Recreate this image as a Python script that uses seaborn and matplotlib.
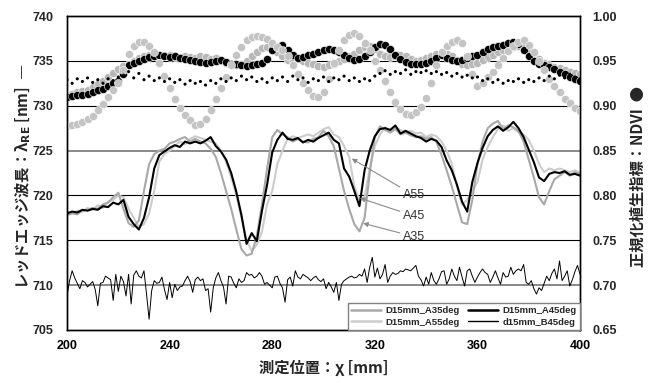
import matplotlib
matplotlib.use('Agg')
import matplotlib.pyplot as plt
import numpy as np
import pandas as pd
import seaborn as sns
from matplotlib.lines import Line2D

# measuring position [mm]
pos_fine = list(range(200, 401))        # 1 mm step
pos = list(range(200, 401, 2))          # 2 mm step

# red edge wavelength [nm], left axis
a35 = [717.8, 718.0, 717.9, 718.3, 718.4, 718.6, 718.5, 719.0, 719.2, 719.8,
       720.3, 718.5, 716.9, 716.5, 717.2, 720.5, 723.5, 724.6, 725.0, 725.2,
       725.8, 726.0, 726.3, 726.5, 726.0, 726.3, 726.0, 725.8, 725.2, 724.3,
       722.5, 720.5, 718.5, 716.2, 714.0, 713.3, 713.5, 715.5, 719.0, 723.0,
       726.5, 727.3, 726.8, 726.5, 726.0, 726.3, 726.0, 725.9, 726.3, 726.5,
       727.2, 726.6, 725.5, 723.0, 720.5, 718.5, 716.8, 716.0, 717.5, 722.5,
       726.5, 727.7, 727.3, 727.0, 727.4, 726.8, 727.0, 726.7, 726.5, 726.6,
       726.3, 726.5, 726.0, 724.5, 722.8, 721.0, 719.0, 717.0, 716.8, 719.5,
       723.5, 726.0, 727.5, 728.0, 728.3, 727.4, 727.8, 727.6, 727.2, 726.0,
       724.0, 722.0, 719.8, 719.0, 720.5, 721.8, 722.2, 722.6, 722.2, 722.6,
       722.4]
a45 = [718.0, 718.2, 718.1, 718.4, 718.3, 718.5, 718.4, 718.8, 718.7, 719.2,
       719.0, 719.5, 717.6, 716.8, 716.2, 717.5, 719.8, 723.0, 724.5, 724.9,
       725.3, 725.6, 725.4, 726.0, 725.8, 726.0, 725.8, 726.1, 726.5, 725.5,
       724.9, 724.0, 722.5, 720.4, 717.8, 714.6, 715.8, 714.9, 718.3, 721.2,
       724.8, 726.2, 727.0, 726.3, 726.2, 726.4, 725.9, 726.2, 726.0, 726.4,
       726.7, 727.0, 726.2, 725.8, 723.0, 722.1, 720.5, 718.8, 722.8, 725.0,
       726.6, 727.4, 727.5, 727.3, 727.8, 726.9, 727.2, 726.9, 726.6, 726.4,
       726.0, 726.3, 726.1, 725.4, 723.9, 722.8, 721.2, 719.3, 718.2, 721.5,
       723.6, 725.3, 726.6, 727.3, 727.7, 727.2, 727.6, 728.2, 727.5, 726.5,
       725.1, 723.7, 722.0, 721.6, 722.4, 722.6, 722.5, 722.7, 722.3, 722.4,
       722.2]
a55 = [718.2, 718.0, 718.3, 718.2, 718.6, 718.4, 718.9, 718.6, 719.3, 719.5,
       720.0, 719.8, 718.5, 717.5, 716.5, 716.8, 718.0, 720.5, 723.8, 724.6,
       725.0, 725.5, 726.0, 725.7, 726.3, 726.6, 726.4, 726.2, 726.0, 725.8,
       725.0, 723.8, 722.0, 720.0, 717.5, 715.0, 713.8, 714.5, 716.0, 719.0,
       720.5, 723.5, 725.0, 726.3, 726.6, 726.4, 726.6, 726.8, 726.6, 727.0,
       727.4, 727.6, 726.8, 726.5, 725.5, 724.3, 721.0, 719.5, 719.8, 723.0,
       725.5, 726.8, 727.6, 727.2, 727.6, 727.3, 727.0, 727.2, 726.9, 727.0,
       726.5, 726.8, 726.6, 726.0, 725.0, 723.5, 721.0, 719.0, 719.5, 720.5,
       721.5, 724.0, 725.4, 726.5, 727.4, 727.8, 727.2, 727.5, 727.0, 726.8,
       726.2, 725.0, 723.5, 722.6, 723.0, 722.8, 723.0, 722.8, 722.6, 722.8,
       722.5]
b45 = [708.8, 710.5, 711.6, 710.8, 710.2, 709.6, 710.5, 710.3, 709.8, 710.1,
       710.4, 709.5, 707.7, 710.2, 710.3, 711.0, 710.8, 710.6, 708.3, 711.2,
       709.3, 711.0, 710.4, 708.8, 711.2, 707.9, 711.1, 711.6, 711.0, 710.8,
       711.6, 709.0, 706.2, 709.4, 710.5, 710.2, 710.3, 710.9, 709.5, 708.4,
       710.3, 708.6, 710.1, 709.4, 709.8, 709.9, 710.5, 711.0, 710.4, 709.2,
       710.6, 710.9, 710.5, 710.7, 709.4, 709.6, 707.0, 709.7, 710.8, 711.4,
       710.5, 709.8, 707.9, 711.0, 710.9, 710.2, 709.7, 710.7, 710.3, 710.5,
       711.4, 711.1, 711.2, 710.8, 711.0, 711.4, 711.0, 710.1, 710.3, 710.0,
       709.7, 710.9, 711.0, 710.2, 709.7, 708.1, 710.6, 710.9, 709.9, 711.6,
       710.9, 710.7, 711.2, 711.0, 710.8, 710.5, 710.8, 711.0, 710.6, 710.4,
       710.7, 709.6, 710.3, 709.8, 709.2, 710.3, 708.3, 710.1, 710.5, 710.7,
       710.9, 711.0, 710.8, 710.9, 711.2, 711.0, 711.8, 710.3, 712.0, 713.1,
       710.9, 711.9, 710.7, 711.2, 712.3, 710.3, 711.0, 711.4, 711.2, 711.3,
       711.6, 711.5, 711.8, 711.7, 711.6, 711.9, 712.2, 711.0, 710.6, 709.9,
       710.9, 710.1, 711.4, 710.5, 710.1, 710.7, 711.5, 711.6, 710.1, 710.7,
       711.8, 711.0, 710.5, 712.0, 710.9, 709.9, 711.6, 711.8, 711.0, 710.3,
       710.9, 711.4, 711.8, 711.4, 711.2, 710.3, 710.9, 711.6, 710.8, 710.1,
       711.4, 710.9, 711.0, 712.0, 711.2, 711.6, 711.8, 711.6, 712.3, 710.3,
       710.1, 710.5, 709.6, 709.0, 709.7, 709.4, 710.2, 711.0, 710.5, 711.3,
       711.8, 710.7, 712.7, 710.5, 711.0, 711.6, 709.9, 710.6, 711.5, 712.2,
       711.2]

# NDVI, right axis
ndvi_black = [0.910, 0.911, 0.912, 0.912, 0.913, 0.915, 0.917, 0.919, 0.922, 0.925,
              0.928, 0.935, 0.945, 0.948, 0.950, 0.952, 0.954, 0.955, 0.956, 0.955,
              0.954, 0.955, 0.953, 0.952, 0.951, 0.950, 0.949, 0.948, 0.949, 0.950,
              0.951, 0.949, 0.947, 0.946, 0.945, 0.944, 0.945, 0.946, 0.948, 0.952,
              0.962, 0.966, 0.968, 0.962, 0.956, 0.953, 0.954, 0.956, 0.958, 0.960,
              0.962, 0.963, 0.962, 0.960, 0.956, 0.953, 0.951, 0.952, 0.955, 0.960,
              0.966, 0.969, 0.968, 0.963, 0.957, 0.952, 0.949, 0.947, 0.946, 0.947,
              0.948, 0.950, 0.953, 0.956, 0.953, 0.951, 0.950, 0.951, 0.953, 0.955,
              0.957, 0.960, 0.963, 0.965, 0.967, 0.968, 0.970, 0.971, 0.969, 0.962,
              0.955, 0.950, 0.947, 0.945, 0.943, 0.941, 0.938, 0.935, 0.932, 0.930,
              0.928]
ndvi_gray = [0.877, 0.879, 0.880, 0.882, 0.885, 0.889, 0.895, 0.902, 0.910, 0.917,
             0.925, 0.940, 0.958, 0.967, 0.971, 0.971, 0.967, 0.960, 0.948, 0.933,
             0.920, 0.908, 0.898, 0.890, 0.884, 0.879, 0.880, 0.885, 0.895, 0.908,
             0.920, 0.932, 0.945, 0.956, 0.966, 0.973, 0.977, 0.978, 0.977, 0.974,
             0.970, 0.966, 0.962, 0.955, 0.945, 0.935, 0.925, 0.917, 0.911, 0.910,
             0.915, 0.930, 0.948, 0.962, 0.973, 0.979, 0.981, 0.978, 0.970, 0.962,
             0.950, 0.940, 0.928, 0.915, 0.904, 0.896, 0.891, 0.890, 0.893, 0.899,
             0.909, 0.925, 0.945, 0.960, 0.967, 0.971, 0.973, 0.970, 0.955, 0.935,
             0.922, 0.925, 0.932, 0.938, 0.945, 0.953, 0.961, 0.967, 0.971, 0.973,
             0.968, 0.960, 0.950, 0.940, 0.930, 0.922, 0.915, 0.908, 0.903, 0.898,
             0.894]
ndvi_gray2 = [0.912, 0.913, 0.915, 0.916, 0.918, 0.921, 0.924, 0.928, 0.932, 0.937,
              0.941, 0.944, 0.946, 0.950, 0.953, 0.955, 0.957, 0.957, 0.956, 0.957,
              0.956, 0.954, 0.954, 0.955, 0.954, 0.953, 0.955, 0.954, 0.952, 0.953,
              0.950, 0.948, 0.946, 0.945, 0.947, 0.950, 0.955, 0.960, 0.964, 0.966,
              0.964, 0.960, 0.955, 0.951, 0.950, 0.952, 0.950, 0.948, 0.946, 0.944,
              0.943, 0.945, 0.947, 0.950, 0.952, 0.955, 0.958, 0.962, 0.966, 0.967,
              0.963, 0.958, 0.955, 0.954, 0.955, 0.956, 0.955, 0.952, 0.950, 0.951,
              0.953, 0.955, 0.958, 0.960, 0.958, 0.955, 0.951, 0.947, 0.945, 0.946,
              0.948, 0.951, 0.954, 0.957, 0.960, 0.962, 0.964, 0.966, 0.967, 0.966,
              0.962, 0.957, 0.952, 0.948, 0.945, 0.943, 0.942, 0.940, 0.938, 0.937,
              0.935]
ndvi_dots = [0.929, 0.925, 0.930, 0.927, 0.931, 0.926, 0.929, 0.925, 0.930, 0.928,
             0.932, 0.934, 0.938, 0.931, 0.936, 0.929, 0.933, 0.928, 0.931, 0.927,
             0.930, 0.926, 0.929, 0.924, 0.928, 0.925, 0.927, 0.923, 0.928, 0.925,
             0.930, 0.927, 0.931, 0.928, 0.933, 0.929, 0.932, 0.927, 0.930, 0.926,
             0.931, 0.928, 0.932, 0.927, 0.933, 0.929, 0.931, 0.926, 0.930, 0.928,
             0.932, 0.927, 0.931, 0.929, 0.933, 0.928, 0.931, 0.927, 0.930, 0.928,
             0.933, 0.936, 0.939, 0.935, 0.938, 0.936, 0.940, 0.935, 0.938, 0.937,
             0.939, 0.936, 0.938, 0.935, 0.937, 0.933, 0.936, 0.932, 0.934, 0.931,
             0.932, 0.928, 0.930, 0.926, 0.929, 0.925, 0.928, 0.927, 0.930, 0.926,
             0.929, 0.927, 0.931, 0.928, 0.933, 0.930, 0.934, 0.931, 0.935, 0.932,
             0.930]

series_names = ['D15mm_A35deg', 'D15mm_A45deg', 'D15mm_A55deg', 'd15mm_B45deg']
series_colors = ['#a8a8a8', 'black', '#cccccc', 'black']
series_widths = [1.5, 1.5, 1.5, 0.7]

# annotation labels: text position and arrow target (data coords)
ann_labels = ['A55', 'A45', 'A35']
ann_text_xy = [(331, 720.0), (331, 717.7), (331, 715.4)]
ann_target_xy = [(311.0, 724.1), (314.2, 719.7), (315.4, 716.9)]

sns.set_theme(style='white')
plt.rcParams['font.family'] = ['Noto Sans CJK JP', 'DejaVu Sans']

fig = plt.figure(figsize=(6.59, 3.83), dpi=100)
ax = fig.add_axes([0.1017, 0.1384, 0.7785, 0.8198])
ax2 = ax.twinx()

# grid lines
for v in [735, 730, 720, 715]:
    ax.axhline(v, color='black', lw=0.8, zorder=0)
for v in [725, 710]:
    ax.axhline(v, color='#808080', lw=1.3, zorder=0)

wl = pd.DataFrame({'pos': pos, 'A35': a35, 'A45': a45, 'A55': a55})
fine = pd.DataFrame({'pos': pos_fine, 'B45': b45})
sns.lineplot(data=wl, x='pos', y='A55', ax=ax, color=series_colors[2], lw=series_widths[2])
sns.lineplot(data=wl, x='pos', y='A35', ax=ax, color=series_colors[0], lw=series_widths[0])
sns.lineplot(data=wl, x='pos', y='A45', ax=ax, color=series_colors[1], lw=series_widths[1])
sns.lineplot(data=fine, x='pos', y='B45', ax=ax, color=series_colors[3], lw=series_widths[3])

nd = pd.DataFrame({'pos': pos, 'black': ndvi_black, 'gray': ndvi_gray,
                   'gray2': ndvi_gray2, 'dots': ndvi_dots})
sns.scatterplot(data=nd, x='pos', y='gray2', ax=ax2, color='#b8b8b8', s=34,
                edgecolor='white', linewidth=0.4, legend=False)
sns.scatterplot(data=nd, x='pos', y='black', ax=ax2, color='black', s=34,
                edgecolor='white', linewidth=0.4, legend=False)
sns.scatterplot(data=nd, x='pos', y='gray', ax=ax2, color='#c4c4c4', s=34,
                edgecolor='white', linewidth=0.4, legend=False)
sns.scatterplot(data=nd, x='pos', y='dots', ax=ax2, color='black', s=5,
                edgecolor='none', legend=False)

ax.set_xlim(200, 400)
ax.set_ylim(705, 740)
ax2.set_ylim(0.65, 1.00)
ax.set_xticks(range(200, 401, 40))
ax.set_yticks(range(705, 741, 5))
ax2.set_yticks(np.arange(0.65, 1.001, 0.05))
ax2.set_yticklabels([f'{v:.2f}' for v in np.arange(0.65, 1.001, 0.05)])

ax.tick_params(axis='x', direction='in', length=3, pad=7, labelsize=9, colors='black')
ax.tick_params(axis='y', length=0, pad=10, labelsize=9)
ax2.tick_params(axis='y', length=0, pad=9, labelsize=9)
for t in ax.get_xticklabels() + ax.get_yticklabels() + ax2.get_yticklabels():
    t.set_fontweight('bold')
    t.set_family('Liberation Sans')

for a in (ax, ax2):
    for s in a.spines.values():
        s.set_color('black')
        s.set_linewidth(1.0)
ax.set_ylabel('')
ax2.set_ylabel('')
ax.set_xlabel('測定位置：χ [mm]', fontsize=11, fontweight='bold', labelpad=6)

fig.text(0.036, 0.54, 'レッドエッジ波長：λ$_{\\mathbf{RE}}$ [nm]  ―', rotation=90,
         ha='center', va='center', fontsize=11, fontweight='bold',
         family='Noto Sans CJK JP')
fig.text(0.967, 0.54, '正規化植生指標：NDVI  ●', rotation=90,
         ha='center', va='center', fontsize=11, fontweight='bold',
         family='Noto Sans CJK JP')

for lab, txy, pxy in zip(ann_labels, ann_text_xy, ann_target_xy):
    ax.annotate(lab, xy=pxy, xytext=txy, ha='left', va='center', fontsize=9,
                family='Liberation Sans', color='#333333',
                arrowprops=dict(arrowstyle='-|>', color='#8c8c8c', lw=0.8,
                                mutation_scale=7, shrinkA=0, shrinkB=0))

handles = [Line2D([], [], color=series_colors[i], lw=series_widths[i] + 0.3) for i in (0, 2, 1, 3)]
labels = [series_names[i] for i in (0, 2, 1, 3)]
leg = ax2.legend(handles, labels, ncol=2, loc='lower right', bbox_to_anchor=(1.0, 0.0),
                 borderaxespad=0, fancybox=False, framealpha=1, edgecolor='#808080',
                 prop={'family': 'Liberation Sans', 'weight': 'bold', 'size': 6.8},
                 handlelength=3.2, handletextpad=0.5, columnspacing=0.8,
                 borderpad=0.35, labelspacing=0.25)
leg.get_frame().set_linewidth(1.0)

fig.savefig('out.png', dpi=100)
